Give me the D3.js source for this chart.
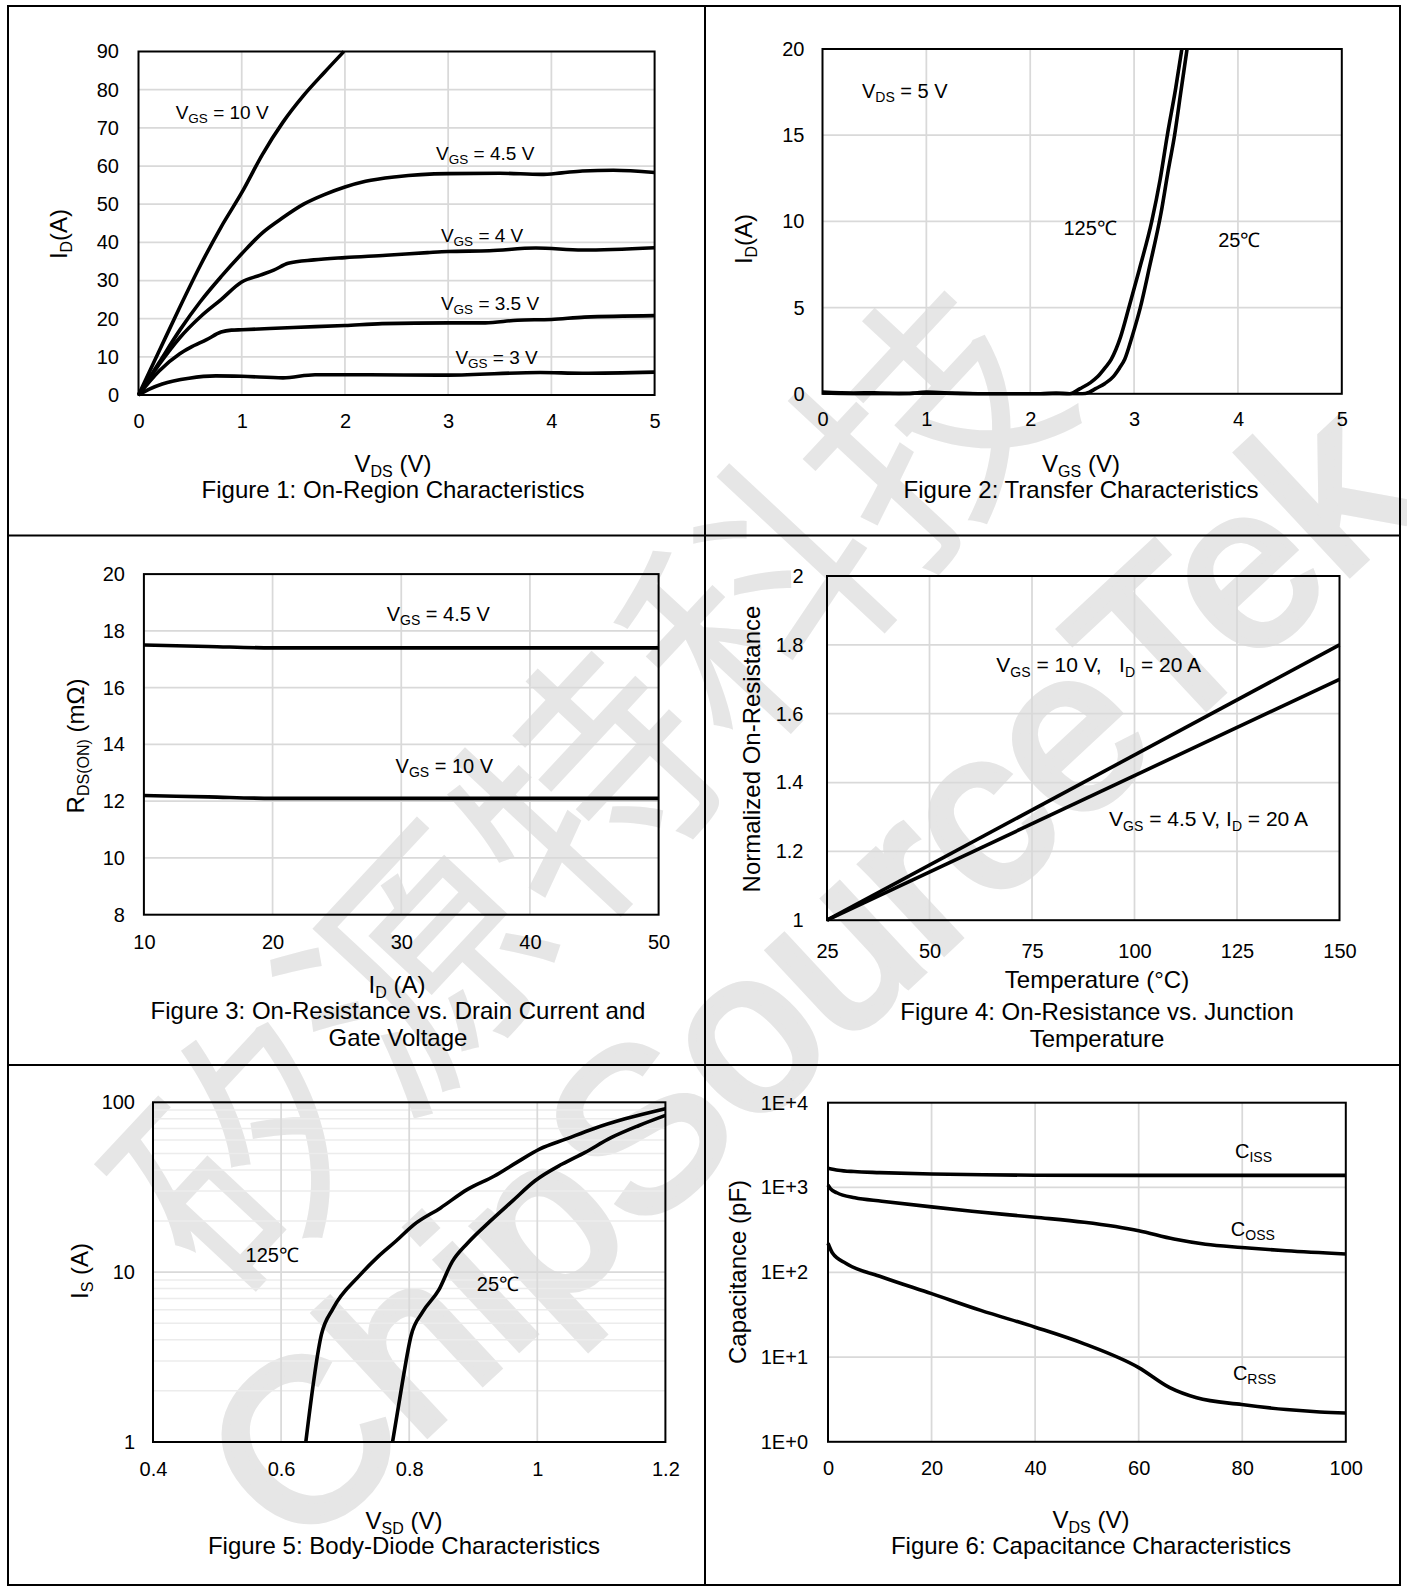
<!DOCTYPE html>
<html>
<head>
<meta charset="utf-8">
<title>MOSFET typical characteristics</title>
<script src="https://cdn.jsdelivr.net/npm/d3@7/dist/d3.min.js"></script>
<style>
  body { margin: 0; background: #fff; }
  svg { display: block; }
  text { font-family: "Liberation Sans", Arial, sans-serif; fill: #000; white-space: pre; }
  text.wm { fill: #e6e6e6; }
</style>
</head>
<body>
<svg id="sheet" width="1407" height="1587"></svg>
<script>
// ---------- values ----------

// Figure 1: ID (A) vs VDS (V)
const fig1Vgs10 = [[0,0],[0.2,11.5],[0.4,23],[0.6,34],[0.8,44],[1.0,53],[1.2,63],[1.4,71.5],[1.6,78.5],[1.8,84.5],[1.99,90]];
const fig1Vgs45 = [[0,0],[0.2,8.5],[0.4,17],[0.6,24.5],[0.8,31],[1.0,37],[1.2,42.5],[1.4,46.5],[1.6,50],[1.8,52.5],[2.0,54.5],[2.2,56],[2.5,57.2],[3.0,58],[3.5,58.1],[3.9,57.8],[4.1,58.2],[4.3,58.7],[4.6,58.9],[5.0,58.3]];
const fig1Vgs4  = [[0,0],[0.2,8],[0.4,15],[0.6,20.5],[0.8,25],[1.0,29.6],[1.18,31.4],[1.31,32.7],[1.45,34.5],[1.7,35.4],[2.0,36],[2.4,36.6],[2.8,37.3],[3.0,37.6],[3.4,37.8],[3.85,38.5],[4.3,38],[5.0,38.6]];
const fig1Vgs35 = [[0,0],[0.2,6.3],[0.4,10.8],[0.5,12.4],[0.66,14.5],[0.8,16.5],[0.9,17],[1.0,17.1],[1.5,17.7],[2.0,18.2],[2.36,18.7],[3.0,18.9],[3.36,18.9],[3.67,19.6],[4.0,19.8],[4.32,20.4],[5.0,20.8]];
const fig1Vgs3  = [[0,0],[0.1,1.5],[0.23,2.9],[0.49,4.4],[0.75,5.0],[1.0,4.9],[1.4,4.5],[1.71,5.3],[2.14,5.3],[3.0,5.2],[3.89,5.9],[4.3,5.7],[5.0,6.0]];
const fig1XTicks = [0,1,2,3,4,5];
const fig1YTicks = [0,10,20,30,40,50,60,70,80,90];
const fig1Labels = ["V_{GS} = 10 V","V_{GS} = 4.5 V","V_{GS} = 4 V","V_{GS} = 3.5 V","V_{GS} = 3 V"];

// Figure 2: ID (A) vs VGS (V)
const fig2T125 = [[0,0.1],[0.3,0.05],[0.5,0.06],[0.8,0],[1.0,0.1],[1.3,0.03],[1.7,0],[2.1,0],[2.25,0.05],[2.38,0],[2.48,0.3],[2.58,0.65],[2.65,1.0],[2.72,1.5],[2.78,2.0],[2.87,3.3],[2.95,5.0],[3.05,7.2],[3.17,10],[3.25,12.4],[3.32,15],[3.40,17.7],[3.46,20]];
const fig2T25  = [[0,0.05],[0.5,0],[1.0,0.05],[1.5,0],[2.2,0],[2.5,0],[2.57,0.1],[2.63,0.3],[2.72,0.6],[2.80,1.0],[2.86,1.5],[2.91,2.0],[2.98,3.3],[3.06,5.0],[3.15,7.4],[3.26,10.5],[3.33,13],[3.39,15],[3.45,17.5],[3.51,20]];
const fig2XTicks = [0,1,2,3,4,5];
const fig2YTicks = [0,5,10,15,20];
const fig2Labels = ["V_{DS} = 5 V","125℃","25℃"];

// Figure 3: RDS(ON) (mOhm) vs ID (A)
const fig3Vgs45 = [[10,17.5],[15,17.45],[20,17.4],[30,17.4],[40,17.4],[50,17.4]];
const fig3Vgs10 = [[10,12.2],[15,12.15],[20,12.1],[30,12.1],[40,12.1],[50,12.1]];
const fig3XTicks = [10,20,30,40,50];
const fig3YTicks = [8,10,12,14,16,18,20];
const fig3Labels = ["V_{GS} = 4.5 V","V_{GS} = 10 V"];

// Figure 4: normalized RDS(ON) vs temperature (°C)
const fig4Vgs10 = [[25,1],[150,1.8]];
const fig4Vgs45 = [[25,1],[150,1.7]];
const fig4XTicks = [25,50,75,100,125,150];
const fig4YTicks = [1,1.2,1.4,1.6,1.8,2];
const fig4Labels = ["V_{GS} = 10 V,   I_{D} = 20 A","V_{GS} = 4.5 V, I_{D} = 20 A"];

// Figure 5: IS (A, log) vs VSD (V)
const fig5T125 = [[0.6386,1],[0.663,4.3],[0.681,6.1],[0.723,9.6],[0.751,12.3],[0.779,15.2],[0.807,19],[0.849,23.9],[0.891,30.7],[0.933,36.8],[0.968,44.3],[1.0035,53],[1.0456,60.9],[1.0877,69.9],[1.137,79.9],[1.2,91.7]];
const fig5T25  = [[0.774,1],[0.789,2.2],[0.803,4.24],[0.821,5.83],[0.846,7.83],[0.867,11.5],[0.891,14.8],[0.926,19.9],[0.961,26.2],[0.996,34.4],[1.039,43.3],[1.074,50.6],[1.116,62.1],[1.158,72.8],[1.2,83.7]];
const fig5XTicks = [0.4,0.6,0.8,1,1.2];
const fig5YTicks = [1,10,100];
const fig5YMinor = [2,3,4,5,6,7,8,9,20,30,40,50,60,70,80,90];
const fig5Labels = ["125℃","25℃"];

// Figure 6: capacitance (pF, log) vs VDS (V)
const fig6Ciss = [[0,1690],[2,1600],[5,1540],[10,1497],[20,1440],[30,1410],[40,1395],[60,1390],[80,1390],[100,1390]];
const fig6Coss = [[0,1070],[0.5,960],[1.7,866],[5.2,755],[10.4,689],[20,590],[27.8,525],[40,445],[49.5,388],[60,309],[66.8,246],[72.9,214],[79.9,196],[88.5,179],[100,164]];
const fig6Crss = [[0,220],[0.9,167],[3.5,127],[10.4,88],[20,56],[29.5,35.5],[40,22.5],[49.5,14.3],[60,7.5],[66,4.35],[71.2,3.3],[79.9,2.75],[88.5,2.4],[95,2.25],[100,2.19]];
const fig6XTicks = [0,20,40,60,80,100];
const fig6YTicks = [1,10,100,1000,10000];
const fig6Labels = ["C_{ISS}","C_{OSS}","C_{RSS}"];

// ---------- drawing ----------
const svg = d3.select('#sheet');

// watermark behind everything
const wm = svg.append('g');
wm.append('text').attr('class', 'wm')
    .attr('transform', 'translate(229,1308) rotate(-47)')
    .style('font-family', '"Noto Sans CJK SC", sans-serif')
    .attr('font-size', 250)
    .text('矽源特科技');
wm.append('text').attr('class', 'wm')
    .attr('transform', 'translate(296,1556) rotate(-43)')
    .attr('font-size', 227)
    .attr('stroke', '#e6e6e6')
    .attr('stroke-width', 8)
    .text('ChipSourceTek');

// text with "_{...}" parts written as subscripts
function richText(sel, str, size, subSize) {
    const parts = str.split(/_\{([^}]*)\}/);
    const shift = Math.round(size * 0.22);
    let lowered = false;
    parts.forEach((p, i) => {
        const isSub = i % 2 === 1;
        if (p === '') return;
        const t = sel.append('tspan').text(p).attr('font-size', isSub ? subSize : size);
        if (isSub && !lowered) { t.attr('dy', shift); lowered = true; }
        else if (!isSub && lowered) { t.attr('dy', -shift); lowered = false; }
    });
}

let clipId = 0;

function drawPanel(p) {
    const x = d3.scaleLinear().domain(p.xDomain).range([p.left, p.right]);
    const y = (p.yLog ? d3.scaleLog() : d3.scaleLinear()).domain(p.yDomain).range([p.bottom, p.top]);
    const g = svg.append('g');

    // gridlines
    g.append('g').selectAll('line').data(p.yMinor || []).join('line')
        .attr('x1', p.left).attr('x2', p.right)
        .attr('y1', d => y(d)).attr('y2', d => y(d))
        .attr('stroke', '#ececec').attr('stroke-width', 1.5);
    g.append('g').selectAll('line').data(p.yGrid).join('line')
        .attr('x1', p.left).attr('x2', p.right)
        .attr('y1', d => y(d)).attr('y2', d => y(d))
        .attr('stroke', '#d9d9d9').attr('stroke-width', 1.75);
    g.append('g').selectAll('line').data(p.xGrid).join('line')
        .attr('y1', p.top).attr('y2', p.bottom)
        .attr('x1', d => x(d)).attr('x2', d => x(d))
        .attr('stroke', '#d9d9d9').attr('stroke-width', 1.75);

    // tick labels
    const xAxis = d3.axisBottom(x).tickValues(p.xTicks).tickSize(0).tickPadding(p.xPad)
        .tickFormat(p.xFormat || (d => String(d)));
    g.append('g').attr('transform', `translate(0,${p.bottom})`).call(xAxis)
        .attr('font-size', 20).attr('font-family', null)
        .call(a => a.select('.domain').remove())
        .selectAll('text').attr('fill', '#000');

    const yAxis = d3.axisLeft(y).tickValues(p.yTicks).tickSize(0).tickPadding(p.yPad)
        .tickFormat(p.yFormat || (d => String(d)));
    g.append('g').attr('transform', `translate(${p.left},0)`).call(yAxis)
        .attr('font-size', 20).attr('font-family', null)
        .call(a => a.select('.domain').remove())
        .selectAll('text').attr('fill', '#000');

    // curves
    const id = 'clip' + (clipId++);
    g.append('clipPath').attr('id', id).append('rect')
        .attr('x', p.left - 2).attr('y', p.top - 2)
        .attr('width', p.right - p.left + 4).attr('height', p.bottom - p.top + 4);
    const line = d3.line()
        .x(d => x(d[0]))
        .y(d => y(d[1]))
        .curve(p.straight ? d3.curveLinear : d3.curveMonotoneX);
    g.append('g').attr('clip-path', `url(#${id})`)
        .selectAll('path').data(p.series).join('path')
        .attr('d', line)
        .attr('fill', 'none')
        .attr('stroke', '#000')
        .attr('stroke-width', 3.6)
        .attr('stroke-linejoin', 'round');

    // plot frame
    g.append('rect')
        .attr('x', p.left).attr('y', p.top)
        .attr('width', p.right - p.left).attr('height', p.bottom - p.top)
        .attr('fill', 'none').attr('stroke', '#000').attr('stroke-width', 2);

    // curve labels
    p.labels.forEach((txt, i) => {
        const at = p.labelAt[i];
        const size = p.labelSize || 20;
        const t = g.append('text')
            .attr('x', x(at[0]))
            .attr('y', y(at[1]) + size * 0.36);
        richText(t, txt, size, p.subSize || 14);
    });

    // axis titles
    const xt = g.append('text').attr('text-anchor', 'middle')
        .attr('x', p.xTitle.cx).attr('y', p.xTitle.cy + 8.6);
    richText(xt, p.xTitle.text, 24, 16);

    const yt = g.append('text').attr('text-anchor', 'middle')
        .attr('transform', `translate(${p.yTitle.cx},${p.yTitle.cy}) rotate(-90)`)
        .attr('y', 8.6);
    richText(yt, p.yTitle.text, 24, 16);

    // figure caption
    p.caption.forEach((c, i) => {
        g.append('text').attr('text-anchor', 'middle')
            .attr('x', p.capX).attr('y', p.capY[i] + 8.6)
            .attr('font-size', 24)
            .text(c);
    });
}

drawPanel({
    left: 138.5, right: 654.6, top: 51.5, bottom: 395,
    xDomain: [0, 5], yDomain: [0, 90],
    xTicks: fig1XTicks, yTicks: fig1YTicks,
    xGrid: fig1XTicks.slice(1, -1), yGrid: fig1YTicks.slice(1, -1),
    xPad: 18.5, yPad: 19.5,
    series: [fig1Vgs10, fig1Vgs45, fig1Vgs4, fig1Vgs35, fig1Vgs3],
    labels: fig1Labels, labelSize: 19, subSize: 13.5,
    labelAt: [[0.36, 74.1], [2.883, 63.3], [2.93, 41.9], [2.93, 24.1], [3.07, 9.9]],
    xTitle: { text: 'V_{DS} (V)', cx: 393, cy: 463 },
    yTitle: { text: 'I_{D}(A)', cx: 58, cy: 234 },
    caption: ['Figure 1: On-Region Characteristics'], capX: 393, capY: [489]
});

drawPanel({
    left: 822.5, right: 1341.8, top: 49, bottom: 393.8,
    xDomain: [0, 5], yDomain: [0, 20],
    xTicks: fig2XTicks, yTicks: fig2YTicks,
    xGrid: fig2XTicks.slice(1, -1), yGrid: fig2YTicks.slice(1, -1),
    xPad: 18, yPad: 18,
    series: [fig2T125, fig2T25],
    labels: fig2Labels,
    labelAt: [[0.38, 17.6], [2.32, 9.62], [3.81, 8.92]],
    xTitle: { text: 'V_{GS} (V)', cx: 1081, cy: 463 },
    yTitle: { text: 'I_{D}(A)', cx: 743, cy: 239 },
    caption: ['Figure 2: Transfer Characteristics'], capX: 1081, capY: [489]
});

drawPanel({
    left: 143.9, right: 658.6, top: 574.1, bottom: 914.7,
    xDomain: [10, 50], yDomain: [8, 20],
    xTicks: fig3XTicks, yTicks: fig3YTicks,
    xGrid: fig3XTicks.slice(1, -1), yGrid: fig3YTicks.slice(1, -1),
    xPad: 20, yPad: 19,
    series: [fig3Vgs45, fig3Vgs10],
    labels: fig3Labels,
    labelAt: [[28.87, 18.6], [29.56, 13.24]],
    xTitle: { text: 'I_{D} (A)', cx: 397, cy: 984 },
    yTitle: { text: 'R_{DS(ON)} (mΩ)', cx: 75, cy: 746 },
    caption: ['Figure 3: On-Resistance vs. Drain Current and', 'Gate Voltage'], capX: 398, capY: [1010, 1037]
});

drawPanel({
    left: 827, right: 1339.5, top: 576, bottom: 920.2,
    xDomain: [25, 150], yDomain: [1, 2],
    xTicks: fig4XTicks, yTicks: fig4YTicks,
    xGrid: fig4XTicks.slice(1, -1), yGrid: fig4YTicks.slice(1, -1),
    xPad: 24, yPad: 23.5,
    straight: true,
    series: [fig4Vgs10, fig4Vgs45],
    labels: fig4Labels, labelSize: 21,
    labelAt: [[66.3, 1.744], [93.8, 1.297]],
    xTitle: { text: 'Temperature (°C)', cx: 1097, cy: 979 },
    yTitle: { text: 'Normalized On-Resistance', cx: 751, cy: 749 },
    caption: ['Figure 4: On-Resistance vs. Junction', 'Temperature'], capX: 1097, capY: [1011.5, 1038]
});

drawPanel({
    left: 153, right: 665.4, top: 1102.3, bottom: 1442,
    xDomain: [0.4, 1.2], yDomain: [1, 100], yLog: true,
    xTicks: fig5XTicks, yTicks: fig5YTicks,
    xGrid: fig5XTicks.slice(1, -1), yGrid: [10], yMinor: fig5YMinor,
    xPad: 19.4, yPad: 18,
    series: [fig5T125, fig5T25],
    labels: fig5Labels,
    labelAt: [[0.5446, 12.6], [0.9055, 8.57]],
    xTitle: { text: 'V_{SD} (V)', cx: 404, cy: 1520 },
    yTitle: { text: 'I_{S} (A)', cx: 79, cy: 1271 },
    caption: ['Figure 5: Body-Diode Characteristics'], capX: 404, capY: [1545.6]
});

drawPanel({
    left: 828, right: 1345.8, top: 1102.7, bottom: 1441.8,
    xDomain: [0, 100], yDomain: [1, 10000], yLog: true,
    xTicks: fig6XTicks, yTicks: fig6YTicks,
    yFormat: d => '1E+' + Math.round(Math.log10(d)),
    xGrid: fig6XTicks.slice(1, -1), yGrid: fig6YTicks.slice(1, -1),
    xPad: 19, yPad: 20,
    series: [fig6Ciss, fig6Coss, fig6Crss],
    labels: fig6Labels,
    labelAt: [[78.6, 2729], [77.8, 323.6], [78.2, 6.57]],
    xTitle: { text: 'V_{DS} (V)', cx: 1091, cy: 1519 },
    yTitle: { text: 'Capacitance (pF)', cx: 737, cy: 1272 },
    caption: ['Figure 6: Capacitance Characteristics'], capX: 1091, capY: [1545.5]
});

// table frame around the six figures
const frame = svg.append('g').attr('stroke', '#000').attr('stroke-width', 2).attr('fill', 'none');
frame.append('rect').attr('x', 8).attr('y', 6).attr('width', 1392).attr('height', 1579);
frame.append('line').attr('x1', 705).attr('x2', 705).attr('y1', 6).attr('y2', 1585);
frame.append('line').attr('x1', 8).attr('x2', 1400).attr('y1', 535.5).attr('y2', 535.5);
frame.append('line').attr('x1', 8).attr('x2', 1400).attr('y1', 1065).attr('y2', 1065);
</script>
</body>
</html>
